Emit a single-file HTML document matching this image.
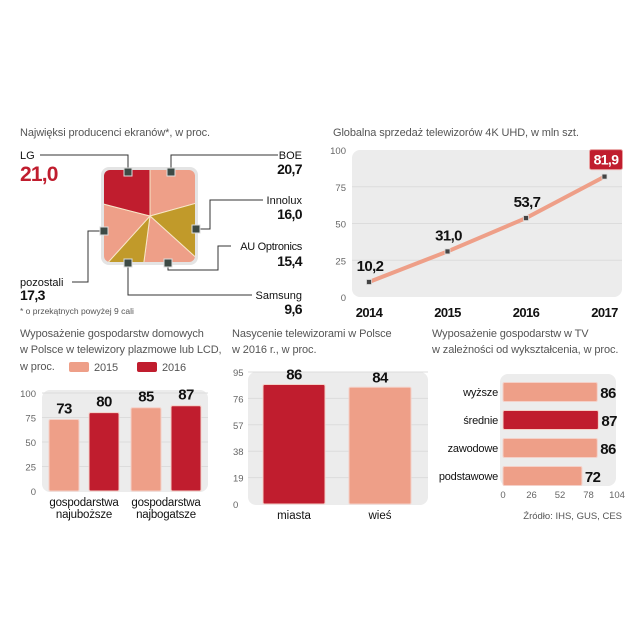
<!DOCTYPE html>
<html><head><meta charset="utf-8"><style>
html,body{margin:0;padding:0;background:#fff}
svg{display:block}
text{font-family:"Liberation Sans Narrow","Liberation Sans",sans-serif}
.t{fill:#555;font-size:11px;letter-spacing:-0.1px}
.tk{fill:#666;font-size:9.5px}
.b{font-weight:bold;fill:#111;letter-spacing:-0.6px}
.l{font-size:11px;fill:#111}
</style></head><body>
<svg id="s" width="640" height="640" viewBox="0 0 640 640">
<defs><clipPath id="sq"><rect x="104" y="170" width="91" height="92" rx="6"/></clipPath></defs>
<text class="t" x="20" y="136">Najwięksi producenci ekranów*, w proc.</text>
<rect x="101" y="167" width="97" height="98" rx="8" fill="#e4e4e4"/>
<g id="pie" clip-path="url(#sq)"></g>
<g stroke="#333" stroke-width="1" fill="none">
<polyline points="40,155 128,155 128,172"/>
<polyline points="171,172 171,155 278,155"/>
<polyline points="196,229 210,229 210,200 263,200"/>
<polyline points="168,263 168,270 218,270 218,246 231,246"/>
<polyline points="128,263 128,295 252,295"/>
<polyline points="104,231 88,231 88,282 72,282"/>
</g>
<g fill="#3d4a45" stroke="#ddd" stroke-width="1">
<rect x="124" y="168" width="8" height="8"/><rect x="167" y="168" width="8" height="8"/>
<rect x="192" y="225" width="8" height="8"/><rect x="164" y="259" width="8" height="8"/>
<rect x="124" y="259" width="8" height="8"/><rect x="100" y="227" width="8" height="8"/>
</g>
<text x="20" y="159" class="l">LG</text>
<text x="20" y="181" font-size="21" font-weight="bold" fill="#c01d2e" letter-spacing="-0.8">21,0</text>
<text x="302" y="159" class="l" text-anchor="end">BOE</text>
<text x="302" y="174" class="b" font-size="14" text-anchor="end">20,7</text>
<text x="302" y="204" class="l" text-anchor="end">Innolux</text>
<text x="302" y="219" class="b" font-size="14" text-anchor="end">16,0</text>
<text x="302" y="250" class="l" text-anchor="end" letter-spacing="-0.3">AU Optronics</text>
<text x="302" y="266" class="b" font-size="14" text-anchor="end">15,4</text>
<text x="302" y="299" class="l" text-anchor="end">Samsung</text>
<text x="302" y="314" class="b" font-size="14" text-anchor="end">9,6</text>
<text x="20" y="286" class="l">pozostali</text>
<text x="20" y="300" class="b" font-size="14">17,3</text>
<text x="20" y="314" font-size="8.5" fill="#555">* o przekątnych powyżej 9 cali</text>

<text class="t" x="333" y="136">Globalna sprzedaż telewizorów 4K UHD, w mln szt.</text>
<rect x="352" y="150" width="270" height="147" rx="8" fill="#ececec"/>
<g id="line"></g>

<text class="t" x="20" y="337">Wyposażenie gospodarstw domowych</text>
<text class="t" x="20" y="353" letter-spacing="-0.3">w Polsce w telewizory plazmowe lub LCD,</text>
<text class="t" x="20" y="370">w proc.</text>
<rect x="69" y="362" width="20" height="10" rx="2" fill="#ee9f88"/>
<text class="t" x="94" y="371">2015</text>
<rect x="137" y="362" width="20" height="10" rx="2" fill="#c01d2e"/>
<text class="t" x="162" y="371">2016</text>
<rect x="42" y="390" width="166" height="102" rx="8" fill="#ececec"/>
<g id="bar1"></g>

<text class="t" x="232" y="337">Nasycenie telewizorami w Polsce</text>
<text class="t" x="232" y="353">w 2016 r., w proc.</text>
<rect x="248" y="372" width="180" height="133" rx="8" fill="#ececec"/>
<g id="bar2"></g>

<text class="t" x="432" y="337">Wyposażenie gospodarstw w TV</text>
<text class="t" x="432" y="353" letter-spacing="-0.3">w zależności od wykształcenia, w proc.</text>
<rect x="500" y="374" width="116" height="112" rx="8" fill="#ececec"/>
<g id="bar3"></g>
<text x="622" y="519" font-size="9.5" fill="#555" text-anchor="end">Źródło: IHS, GUS, CES</text>
</svg>
<script>
var NS="http://www.w3.org/2000/svg";
var SAL="#ee9f88",RED="#c01d2e",OLV="#c19a2a";
var pieNames=["BOE","Innolux","AU Optronics","Samsung","pozostali","LG"];
var pieValues=[20.7,16.0,15.4,9.6,17.3,21.0];
var pieColors=[SAL,OLV,SAL,OLV,SAL,RED];
var lineYears=["2014","2015","2016","2017"];
var lineValues=[10.2,31.0,53.7,81.9];
var lineLabels=["10,2","31,0","53,7","81,9"];
var lineTicks=[0,25,50,75,100];
var bar1Groups=["gospodarstwa|najuboższe","gospodarstwa|najbogatsze"];
var bar1v2015=[73,85];
var bar1v2016=[80,87];
var bar1Ticks=[0,25,50,75,100];
var bar2Cats=["miasta","wieś"];
var bar2Values=[86,84];
var bar2Ticks=[0,19,38,57,76,95];
var bar3Cats=["wyższe","średnie","zawodowe","podstawowe"];
var bar3Values=[86,87,86,72];
var bar3Ticks=[0,26,52,78,104];

function el(tag,attrs,parent,txt){var e=document.createElementNS(NS,tag);for(var k in attrs)e.setAttribute(k,attrs[k]);if(txt!=null)e.textContent=txt;parent.appendChild(e);return e;}

(function(){var g=document.getElementById('pie');var cx=150,cy=216,R=90;var tot=pieValues.reduce(function(a,b){return a+b},0);var a=0;
for(var i=0;i<pieValues.length;i++){var a0=a/tot*2*Math.PI;a+=pieValues[i];var a1=a/tot*2*Math.PI;
var x0=cx+R*Math.sin(a0),y0=cy-R*Math.cos(a0),x1=cx+R*Math.sin(a1),y1=cy-R*Math.cos(a1);
var p=el('path',{d:'M'+cx+','+cy+'L'+x0+','+y0+'A'+R+','+R+' 0 '+((a1-a0)>Math.PI?1:0)+' 1 '+x1+','+y1+'Z',fill:pieColors[i],stroke:'#f7e6c8','stroke-width':1},g);

}})();

(function(){var g=document.getElementById('line');var y=function(v){return 297-v/100*147;};var xs=function(i){return 369+i*78.5;};
lineTicks.forEach(function(t){if(t>0&&t<100){var l=el('line',{x1:352,x2:622,y1:y(t),y2:y(t),stroke:'#dcdcdc'},g);}
var tx=el('text',{x:346,y:y(t)+4,'text-anchor':'end','class':'tk'},g,String(t));});
var pts=lineValues.map(function(v,i){return xs(i)+','+y(v)}).join(' ');
var pl=el('polyline',{points:pts,fill:'none',stroke:SAL,'stroke-width':4,'stroke-linejoin':'round'},g);
lineValues.forEach(function(v,i){var m=el('rect',{x:xs(i)-2.5,y:y(v)-2.5,width:5,height:5,fill:'#444',stroke:'#ddd','stroke-width':0.8},g);
var xl=el('text',{x:xs(i),y:317,'text-anchor':'middle','class':'b','font-size':13},g,lineYears[i]);
if(i==lineValues.length-1){var bx=el('rect',{x:xs(i)-15,y:y(v)-27,width:33,height:20,rx:2,fill:RED,stroke:'#e8a0a0'},g);
var vl=el('text',{x:xs(i)+1.5,y:y(v)-12,'text-anchor':'middle','font-weight':'bold','font-size':14,'letter-spacing':'-0.6',fill:'#fff'},g,lineLabels[i]);}
else{var vl2=el('text',{x:xs(i)+1,y:y(v)-11,'text-anchor':'middle','class':'b','font-size':15},g,lineLabels[i]);}});})();

(function(){var g=document.getElementById('bar1');var y=function(v){return 491-v/100*98;};
bar1Ticks.forEach(function(t){if(t>0){var l=el('line',{x1:42,x2:208,y1:y(t),y2:y(t),stroke:'#dcdcdc'},g);}
var tx=el('text',{x:36,y:y(t)+4,'text-anchor':'end','class':'tk'},g,String(t));});
bar1Groups.forEach(function(n,i){var gx=49+i*82;
[[bar1v2015[i],SAL,'2015'],[bar1v2016[i],RED,'2016']].forEach(function(d,j){var x=gx+j*40;
var r=el('rect',{x:x,y:y(d[0]),width:30,height:491-y(d[0]),rx:1.5,fill:d[1],stroke:'#f4d0c8','stroke-width':1},g);
var vl=el('text',{x:x+15,y:y(d[0])-6,'text-anchor':'middle','class':'b','font-size':15},g,String(d[0]));});
var parts=n.split('|');parts.forEach(function(p,k){var cl=el('text',{x:gx+35,y:506+k*12,'text-anchor':'middle','font-size':11.5,'letter-spacing':'-0.2',fill:'#111'},g,p);});});})();

(function(){var g=document.getElementById('bar2');var y=function(v){return 504-v/95*132;};
bar2Ticks.forEach(function(t){if(t>0){var l=el('line',{x1:248,x2:428,y1:y(t),y2:y(t),stroke:'#dcdcdc'},g);}
var tx=el('text',{x:233,y:y(t)+4,'class':'tk'},g,String(t));});
bar2Values.forEach(function(v,i){var x=263+i*86;var r=el('rect',{x:x,y:y(v),width:62,height:504-y(v),rx:1.5,fill:i==0?RED:SAL,stroke:'#f4d0c8'},g);
var vl=el('text',{x:x+31,y:y(v)-5,'text-anchor':'middle','class':'b','font-size':15},g,String(v));
var cl=el('text',{x:x+31,y:519,'text-anchor':'middle','font-size':11.5,fill:'#111'},g,bar2Cats[i]);});})();

(function(){var g=document.getElementById('bar3');var x=function(v){return 503+v/104*114;};
bar3Ticks.forEach(function(t){var tx=el('text',{x:x(t),y:498,'text-anchor':'middle','class':'tk'},g,String(t));});
bar3Values.forEach(function(v,i){var cy=392+i*28;var r=el('rect',{x:x(0),y:cy-9.5,width:x(v)-x(0),height:19,rx:1.5,fill:i==1?RED:SAL,stroke:'#f4d0c8'},g);
var vl=el('text',{x:x(v)+3,y:cy+6,'class':'b','font-size':15},g,String(v));
var cl=el('text',{x:498,y:cy+4,'text-anchor':'end','font-size':11,'letter-spacing':'-0.2',fill:'#111'},g,bar3Cats[i]);});})();
</script>
</body></html>
